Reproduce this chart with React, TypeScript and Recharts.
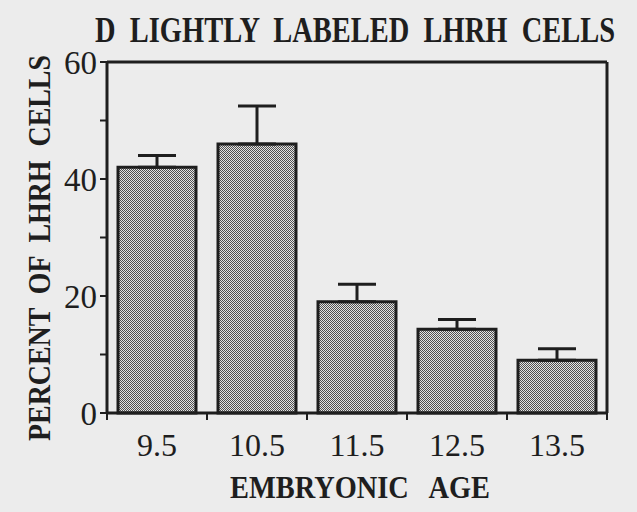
import { BarChart, Bar, XAxis, YAxis, ErrorBar, Label, ReferenceLine } from 'recharts'

const ages = ['9.5', '10.5', '11.5', '12.5', '13.5']
const percents = [42, 46, 19, 14.3, 9]
const upperErrors = [2, 6.5, 3, 1.7, 2]
const yTicks = [0, 10, 20, 30, 40, 50, 60]

const data = ages.map((age, i) => ({
  age,
  pct: percents[i],
  err: [0, upperErrors[i]],
}))

const INK = '#1e1e1e'
const SERIF = '"Liberation Serif", "DejaVu Serif", serif'

// condensed bold serif text: squeeze horizontally with a scale, fit exact length
function Squeezed(props: { x: number; y: number; len: number; sx: number; size: number; rotate?: boolean; children: string }) {
  const { x, y, len, sx, size, rotate, children } = props
  const tf = rotate ? `translate(${x},${y}) rotate(-90) scale(${sx},1)` : `translate(${x},${y}) scale(${sx},1)`
  return (
    <text
      transform={tf}
      textLength={len / sx}
      lengthAdjust="spacingAndGlyphs"
      fontFamily={SERIF}
      fontWeight="bold"
      fontSize={size}
      fill={INK}
      style={{ whiteSpace: 'pre' }}
    >
      {children}
    </text>
  )
}

function AgeTick(props: any) {
  const { x, y, payload, index, visibleTicksCount } = props
  const half = payload.offset ?? 50
  const last = index === visibleTicksCount - 1
  return (
    <g>
      <line x1={x - half} y1={y - 8} x2={x - half} y2={y - 1} stroke={INK} strokeWidth={2} />
      {last && <line x1={x + half} y1={y - 8} x2={x + half} y2={y - 1} stroke={INK} strokeWidth={2} />}
      <text x={x} y={y + 35} textAnchor="middle" fontFamily={SERIF} fontSize={32} fill={INK}>
        {payload.value}
      </text>
    </g>
  )
}

export default function App() {
  return (
    <div style={{ position: 'absolute', left: 0, top: 0, width: 637, height: 512, background: '#ececec' }}>
      <svg width={0} height={0} style={{ position: 'absolute' }}>
        <defs>
          <pattern id="stipple" width={2} height={2} patternUnits="userSpaceOnUse">
            <rect width={2} height={2} fill="#e4e4e4" />
            <rect x={0} y={0} width={1} height={1} fill="#505050" />
            <rect x={1} y={1} width={1} height={1} fill="#505050" />
          </pattern>
        </defs>
      </svg>
      <svg width={637} height={56} style={{ position: 'absolute', left: 0, top: 0 }}>
        <Squeezed x={95} y={42} len={520} sx={0.8} size={35}>
          {'D  LIGHTLY  LABELED  LHRH  CELLS'}
        </Squeezed>
      </svg>
      <BarChart
        width={637}
        height={512}
        data={data}
        margin={{ top: 62, right: 30, bottom: 0, left: 0 }}
        barCategoryGap="11%"
        style={{ position: 'absolute', left: 0, top: 0 }}
      >
        <XAxis
          dataKey="age"
          height={99}
          axisLine={{ stroke: INK, strokeWidth: 3 }}
          tickLine={false}
          tick={<AgeTick />}
          interval={0}
        >
          <Label
            content={() => (
              <Squeezed x={230} y={498} len={260} sx={0.87} size={32}>
                {'EMBRYONIC   AGE'}
              </Squeezed>
            )}
          />
        </XAxis>
        <YAxis
          width={107}
          domain={[0, 60]}
          ticks={yTicks}
          interval={0}
          tickFormatter={(v: number) => (v % 20 === 0 ? String(v) : '')}
          tickSize={7}
          tickMargin={3}
          axisLine={{ stroke: INK, strokeWidth: 3 }}
          tickLine={{ stroke: INK, strokeWidth: 2 }}
          tick={{ fill: INK, fontSize: 33, fontFamily: SERIF }}
        >
          <Label
            content={() => (
              <Squeezed x={50} y={441} len={386} sx={0.86} size={32} rotate>
                {'PERCENT  OF  LHRH  CELLS'}
              </Squeezed>
            )}
          />
        </YAxis>
        <ReferenceLine y={60} stroke={INK} strokeWidth={3} />
        <ReferenceLine x="13.5" position="end" stroke={INK} strokeWidth={3} />
        <Bar dataKey="pct" fill="url(#stipple)" stroke={INK} strokeWidth={3} isAnimationActive={false}>
          <ErrorBar dataKey="err" direction="y" width={19} stroke={INK} strokeWidth={3} />
        </Bar>
      </BarChart>
    </div>
  )
}
